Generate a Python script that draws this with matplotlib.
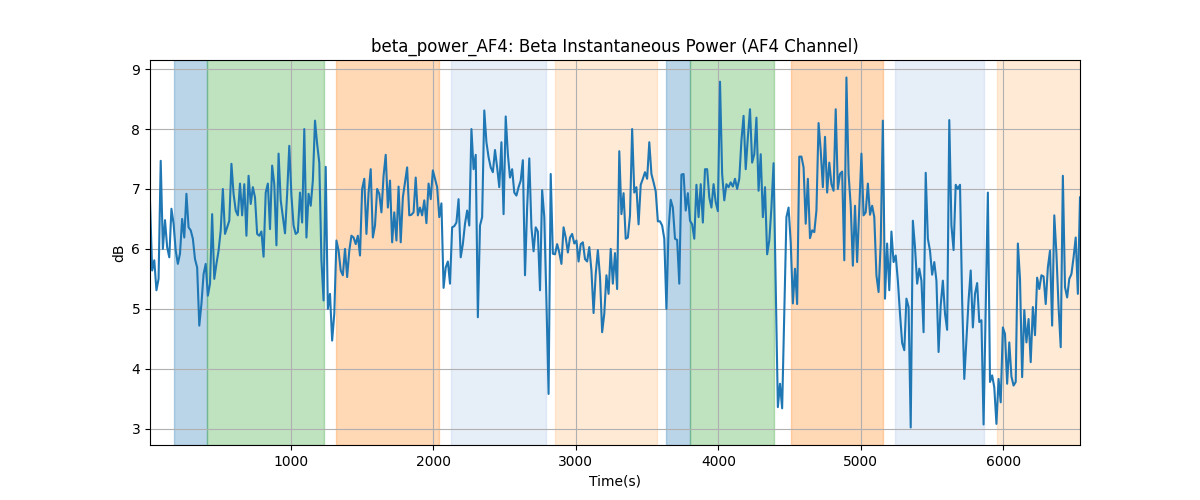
import numpy as np
import matplotlib
matplotlib.use("Agg")
import matplotlib.pyplot as plt

# Beta power (dB)
seg1 = [6.8, 5.64, 5.81, 5.31, 5.5, 7.47, 6.0, 6.48, 6.03, 5.86,
        6.67, 6.42, 5.97, 5.75, 5.92, 6.5, 6.19, 6.92, 6.36, 6.31,
        6.17, 5.83, 5.69, 4.72, 5.08, 5.58, 5.75, 5.22, 5.42, 6.58,
        5.5, 5.75, 5.97, 6.31, 7.0, 6.25, 6.36, 6.47, 7.42, 6.92,
        6.64, 6.56, 7.09, 6.56, 7.08, 6.22, 7.22, 6.75, 7.03, 6.86,
        6.25, 6.22, 6.29, 5.87, 6.94, 7.09, 6.33, 7.39, 7.08, 6.06,
        7.59, 6.81, 6.53, 6.26, 6.92, 7.72, 6.89, 6.39, 6.25, 6.28,
        6.94, 6.44, 8.0, 6.19, 6.92, 6.72, 7.14, 8.14, 7.75, 7.44,
        5.81, 5.14, 7.37, 5.0, 5.25, 4.47, 4.92, 6.14]
seg2 = [5.97, 5.64, 5.56, 6.0, 5.53, 5.97, 6.22, 6.19, 6.08, 6.22,
        5.89, 7.0, 7.17, 6.25, 6.94, 7.33, 6.19, 6.39, 7.0, 6.92,
        6.61, 7.22, 7.57, 6.69, 7.14, 6.11, 6.61, 6.14, 7.04, 6.11,
        6.86, 7.11, 7.36, 6.56, 6.57, 6.61, 7.19, 6.56, 6.69, 6.56,
        6.81, 6.43, 7.09, 6.83, 7.31, 7.17, 7.03, 6.53, 6.76, 5.35,
        5.69, 5.79, 5.42, 6.36, 6.38, 6.44, 6.83, 5.86, 6.08, 6.42,
        6.64, 6.39, 8.0, 7.33, 7.57, 4.86, 6.39, 6.53, 8.31, 7.78,
        7.53, 7.36, 7.28, 7.65, 7.36, 7.03, 7.78, 6.58, 8.21, 7.58,
        7.19, 7.33, 6.94, 6.89, 7.03]
seg3 = [7.14, 7.48, 5.56, 6.69, 7.51, 6.36, 5.96, 6.36, 6.29, 5.31,
        6.98, 6.53, 5.14, 3.58, 7.25, 5.92, 5.91, 6.08, 5.94, 5.75,
        6.36, 6.19, 5.94, 6.19, 6.25, 6.09, 6.14, 5.79, 6.08, 6.11,
        5.83, 5.79, 6.03, 5.64, 4.93, 5.58, 5.98, 5.53, 4.61, 4.92,
        5.56, 5.25, 6.0, 5.42, 5.93, 5.33, 7.63, 6.58, 6.93, 6.17,
        6.19, 6.56, 8.0, 6.94, 7.03, 6.41, 7.07, 7.17, 7.28, 7.17,
        7.78, 7.25, 7.11, 6.96, 6.46, 6.46, 6.39, 6.17, 5.0, 6.33,
        6.82, 6.69, 6.17, 6.15, 5.42, 7.24, 7.25, 6.64, 6.93, 6.47,
        6.41, 6.17, 7.07, 6.53]
seg4 = [7.08, 6.44, 7.33, 7.33, 6.86, 6.69, 7.08, 6.78, 6.63, 8.79,
        7.25, 6.81, 7.08, 7.03, 7.11, 7.04, 7.17, 7.0, 7.17, 7.81,
        8.22, 7.33, 7.86, 8.33, 7.44, 7.58, 8.19, 6.97, 7.58, 6.53,
        7.03, 5.91, 6.14, 6.69, 7.43, 5.4, 3.36, 3.75, 3.34, 4.97,
        6.53, 6.69, 6.11, 5.09, 5.67, 5.08, 7.54, 7.54, 7.36, 6.42,
        7.17, 6.18, 6.31, 6.28, 6.64, 8.1, 7.64, 7.03, 7.87, 6.94,
        7.44, 7.08, 6.97, 8.33, 7.0, 7.25, 7.29, 5.81, 8.86, 7.25,
        6.72, 5.72, 6.72, 5.78, 6.69, 7.59, 6.56, 6.61, 7.09, 6.57,
        6.72, 6.53, 5.56, 5.28, 6.09, 8.14, 5.17, 6.09, 5.31]
seg5 = [6.29, 5.78, 5.89, 5.47, 4.92, 4.43, 4.31, 5.17, 5.03, 3.02,
        6.47, 6.03, 5.42, 5.67, 5.47, 4.61, 7.27, 6.17, 5.97, 5.57,
        5.78, 5.47, 4.28, 5.06, 5.47, 4.92, 4.65, 8.15, 6.39, 5.98,
        7.07, 7.0, 7.07, 5.14, 3.83, 4.47, 5.14, 5.64, 4.69, 5.25,
        5.43, 4.78, 4.81, 3.07, 5.0, 6.94, 3.78, 3.89, 3.69, 3.08,
        3.83, 3.44, 4.69, 4.58, 3.75, 4.44, 3.87, 3.72, 3.78, 6.09,
        5.5, 3.86, 4.98, 4.44, 4.83, 4.11, 5.03, 4.56, 5.52, 5.33,
        5.56, 5.54, 5.08, 5.69, 5.97, 4.72, 6.56, 5.92, 5.03, 4.36,
        7.22, 5.36, 5.19, 5.5, 5.58, 5.86, 6.19, 5.25, 6.86]
power_db = seg1 + seg2 + seg3 + seg4 + seg5

t_start, t_end = 12.0, 6538.0
time_s = np.linspace(t_start, t_end, len(power_db))

# Shaded intervals (start, end, colour, alpha)
span_starts = [180, 414, 1318, 2124, 2856, 3635, 3801, 4507, 5237, 5955]
span_ends = [414, 1232, 2039, 2791, 3572, 3801, 4392, 5158, 5867, 6600]
span_colors = ["tab:blue", "tab:green", "tab:orange", "#aec7e8", "#ffbb78",
               "tab:blue", "tab:green", "tab:orange", "#aec7e8", "#ffbb78"]

fig, ax = plt.subplots(figsize=(12, 5), dpi=100)
for s, e, c in zip(span_starts, span_ends, span_colors):
    ax.axvspan(s, e, color=c, alpha=0.3)
ax.plot(time_s, power_db, color="tab:blue", linewidth=1.5)
ax.set_xlim(t_start, t_end)
ax.grid(True)
ax.set_title("beta_power_AF4: Beta Instantaneous Power (AF4 Channel)")
ax.set_xlabel("Time(s)")
ax.set_ylabel("dB")
fig.savefig("out.png")
